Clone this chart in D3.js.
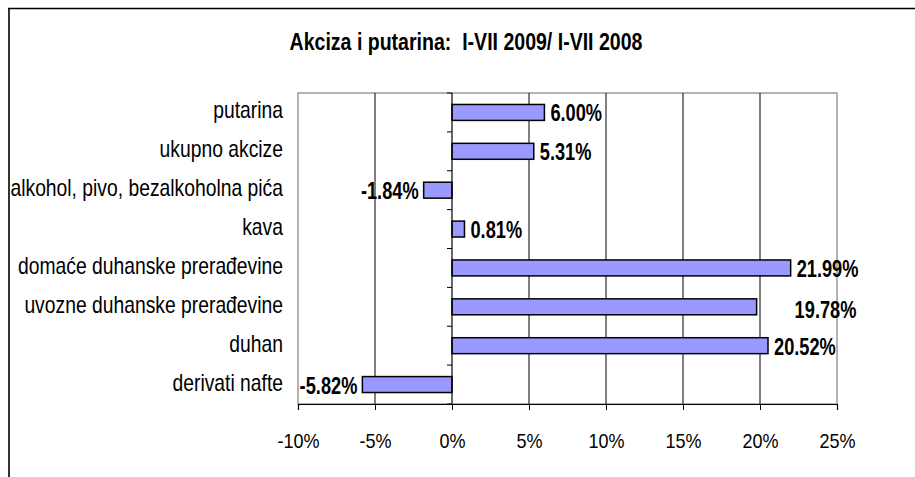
<!DOCTYPE html>
<html><head><meta charset="utf-8">
<script src="https://cdn.jsdelivr.net/npm/d3@7"></script>
<style>
html,body{margin:0;padding:0;background:#fff;}
svg{display:block;}
text{font-family:"Liberation Sans",Arial,sans-serif;white-space:pre;}
</style></head>
<body>
<svg id="chart" width="915" height="477"></svg>
<script>
const title = "Akciza i putarina:  I-VII 2009/ I-VII 2008";
const categories = ["putarina","ukupno akcize","alkohol, pivo, bezalkoholna pića","kava","domaće duhanske prerađevine","uvozne duhanske prerađevine","duhan","derivati nafte"];
const values = [6.00, 5.31, -1.84, 0.81, 21.99, 19.78, 20.52, -5.82];
const valueLabels = ["6.00%","5.31%","-1.84%","0.81%","21.99%","19.78%","20.52%","-5.82%"];
const tickValues = [-10,-5,0,5,10,15,20,25];
const tickLabels = ["-10%","-5%","0%","5%","10%","15%","20%","25%"];

const svg = d3.select("#chart");
const plot = {left:298, right:837, top:93, bottom:404};

// outer frame (top and left visible)
svg.append("line").attr("x1",8).attr("x2",915).attr("y1",8.5).attr("y2",8.5).attr("stroke","#000").attr("stroke-width",1.6);
svg.append("line").attr("x1",9).attr("x2",9).attr("y1",8).attr("y2",477).attr("stroke","#000").attr("stroke-width",1.6);

svg.append("text").attr("transform","translate(466,50) scale(0.85,1)").attr("text-anchor","middle")
  .attr("font-size",23).attr("font-weight","bold").text(title);

const x = d3.scaleLinear().domain([-10,25]).range([plot.left, plot.right]);
const y = d3.scaleBand().domain(categories).range([plot.top, plot.bottom]).paddingInner(0.59).paddingOuter(0.295);
const yb = d3.scaleBand().domain(categories).range([plot.top, plot.bottom]);

// plot border
svg.append("rect").attr("x",plot.left).attr("y",plot.top).attr("width",plot.right-plot.left).attr("height",plot.bottom-plot.top)
  .attr("fill","none").attr("stroke","#808080").attr("stroke-width",1.2);

// gridlines
svg.append("g").selectAll("line").data(tickValues.filter(d=>d!==-10 && d!==25 && d!==0)).join("line")
  .attr("x1",d=>x(d)).attr("x2",d=>x(d)).attr("y1",plot.top).attr("y2",plot.bottom)
  .attr("stroke","#000").attr("stroke-width",1);

// bars
svg.append("g").selectAll("rect").data(values).join("rect")
  .attr("x",d=>x(Math.min(0,d))).attr("width",d=>Math.abs(x(d)-x(0)))
  .attr("y",(d,i)=>y(categories[i])).attr("height",y.bandwidth())
  .attr("fill","#9999ff").attr("stroke","#000").attr("stroke-width",1.5);

// x axis
const xAxis = d3.axisBottom(x).tickValues(tickValues).tickFormat((d,i)=>tickLabels[i]).tickSize(6).tickPadding(0);
const gx = svg.append("g").attr("transform",`translate(0,${plot.bottom})`).call(xAxis);
gx.select(".domain").attr("stroke","#000").attr("stroke-width",1.2);
gx.selectAll(".tick line").attr("stroke","#000");
gx.selectAll(".tick text").attr("font-size",20).attr("fill","#000").attr("font-family",null)
  .attr("y",null).attr("dy",null).attr("transform","translate(0,44) scale(0.9,1)");

// zero axis with category boundary ticks
const zeroG = svg.append("g");
zeroG.append("line").attr("x1",x(0)).attr("x2",x(0)).attr("y1",plot.top).attr("y2",plot.bottom).attr("stroke","#000").attr("stroke-width",1.2);
zeroG.selectAll("line.t").data(d3.range(categories.length+1)).join("line").attr("class","t")
  .attr("x1",x(0)-5).attr("x2",x(0)).attr("y1",i=>plot.top+i*yb.step()).attr("y2",i=>plot.top+i*yb.step())
  .attr("stroke","#000").attr("stroke-width",1);

// category labels
svg.append("g").selectAll("text").data(categories).join("text")
  .attr("transform",d=>`translate(283,${yb(d)+yb.bandwidth()/2+6}) scale(0.84,1)`).attr("text-anchor","end")
  .attr("font-size",23).attr("fill","#000").text(d=>d);

// value labels
const labelDx = [0,0,0,0,0,32,0,0];
const labelDy = [0,0,0,0,0,2.5,0,0];
svg.append("g").selectAll("text").data(values).join("text")
  .attr("transform",(d,i)=>{
    const tx = d>=0 ? x(d)+6+labelDx[i] : x(d)-5;
    const ty = yb(categories[i])+yb.bandwidth()/2+9+labelDy[i];
    return `translate(${tx},${ty}) scale(0.76,1)`;
  })
  .attr("text-anchor",d=>d>=0?"start":"end")
  .attr("font-size",24).attr("font-weight","bold").attr("fill","#000")
  .text((d,i)=>valueLabels[i]);
</script>
</body></html>
